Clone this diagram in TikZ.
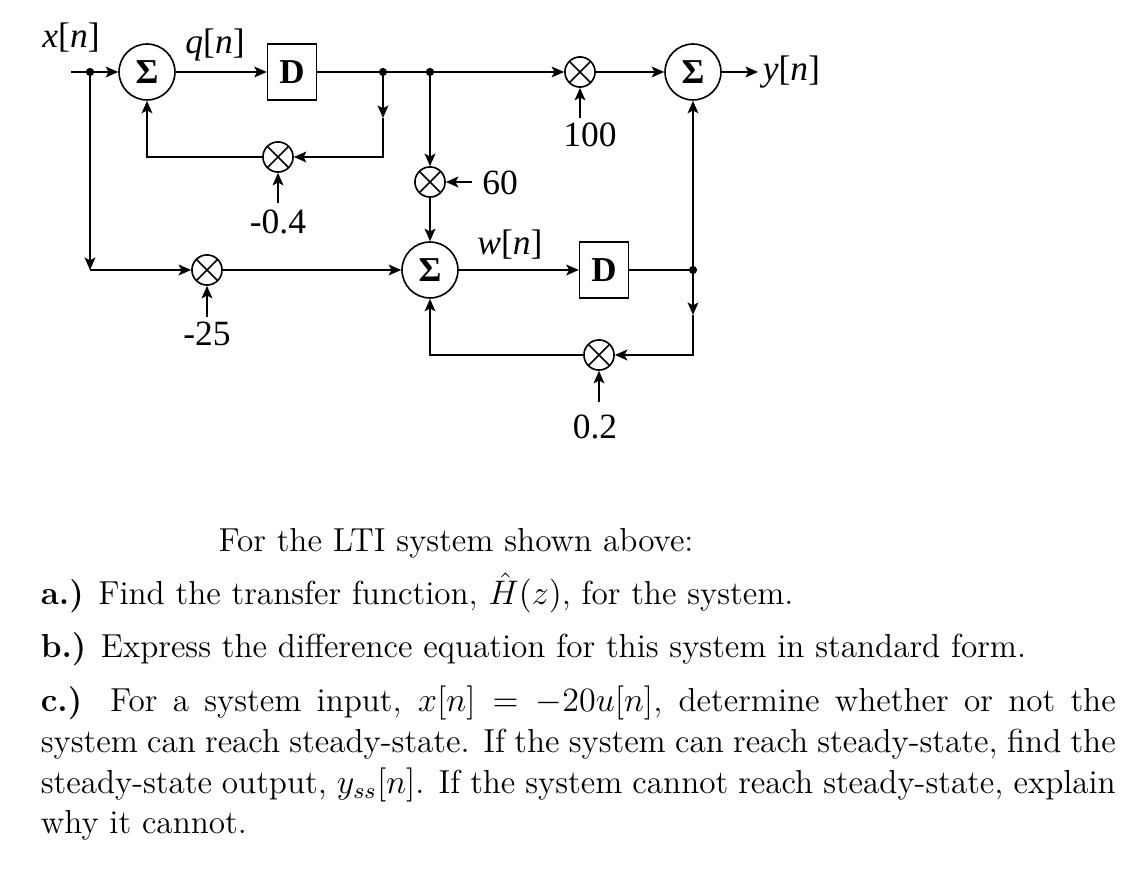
\documentclass[tikz,border=0pt]{standalone}
\usepackage{fontspec}
\newfontfamily\dfont{Liberation Serif}
\usetikzlibrary{arrows.meta}
\begin{document}
\begin{tikzpicture}[x=0.3521pt,y=-0.3521pt,
  line width=0.57pt,
  arr/.style={-{Stealth[length=4.4pt,width=3.8pt,inset=1pt]}},
  dfnt/.style={font=\dfont\fontsize{12.5}{14}\selectfont},
  sumn/.style={circle,draw,minimum size=19.7pt,inner sep=0pt,font=\dfont\bfseries\fontsize{12.3}{14}\selectfont},
  multn/.style={circle,draw,minimum size=10.6pt,inner sep=0pt,
    path picture={\draw (path picture bounding box.north west)--(path picture bounding box.south east)
                        (path picture bounding box.north east)--(path picture bounding box.south west);}},
  delayn/.style={draw,minimum width=17.2pt,minimum height=19.9pt,inner sep=0pt,font=\dfont\bfseries\fontsize{12.3}{14}\selectfont},
  dotn/.style={circle,fill,inner sep=0pt,minimum size=2.9pt},
  lbl/.style={dfnt,inner sep=0pt},
  txt/.style={inner sep=0pt,font=\fontsize{11.7}{14.15}\selectfont}]
\useasboundingbox (0,0) rectangle (1148,876);
% nodes
\coordinate (in) at (71,72);
\node[dotn] (dot1) at (90,72) {};
\node[sumn] (S1) at (147,72) {Σ};
\node[delayn] (D1) at (292,72) {D};
\node[dotn] (dot2) at (383,72) {};
\node[dotn] (dot3) at (430,72) {};
\node[multn] (M100) at (580,72) {};
\node[sumn] (S3) at (693,72) {Σ};
\coordinate (out) at (758,72);
\node[multn] (M04) at (278,157) {};
\node[multn] (M60) at (430,182) {};
\node[multn] (M25) at (207,270) {};
\node[sumn] (S2) at (430,270) {Σ};
\node[delayn] (D2) at (604,270) {D};
\node[dotn] (dot4) at (693,270) {};
\node[multn] (M02) at (599,355) {};
\coordinate (c1) at (383,118);
\coordinate (c2) at (383,157);
\coordinate (c3) at (147,157);
\coordinate (c4) at (90,270);
\coordinate (c5) at (693,315);
\coordinate (c6) at (693,355);
\coordinate (c7) at (430,355);
% labels
\node[lbl] (lx) at (71,38) {\itshape x\upshape[\itshape n\upshape]};
\node[lbl] (lq) at (215,45) {\itshape q\upshape[\itshape n\upshape]};
\node[lbl] (lw) at (510,245) {\itshape w\upshape[\itshape n\upshape]};
\node[lbl,anchor=west] (ly) at (762,72) {\itshape y\upshape[\itshape n\upshape]};
\node[lbl] (g04) at (278,222) {-0.4};
\node[lbl] (g25) at (207,334) {-25};
\node[lbl] (g100) at (590,135) {100};
\node[lbl] (g60) at (500,183) {60};
\node[lbl] (g02) at (595,427) {0.2};
\coordinate (a04) at (278,203);
\coordinate (a25) at (207,317);
\coordinate (a100) at (580,118);
\coordinate (a60) at (472,182);
\coordinate (a02) at (599,402);
% connectors
\draw[arr] (in) -- (S1.west);
\draw[arr] (S1.east) -- (D1.west);
\draw (D1.east) -- (dot3.center);
\draw[arr] (dot3.center) -- (M100.west);
\draw[arr] (M100.east) -- (S3.west);
\draw[arr] (S3.east) -- (out);
\draw[arr] (dot2.center) -- (c1);
\draw[arr] (c1) -- (c2) -- (M04.east);
\draw[arr] (M04.west) -- (c3) -- (S1.south);
\draw[arr] (dot1.center) -- (c4);
\draw[arr] (c4) -- (M25.west);
\draw[arr] (M25.east) -- (S2.west);
\draw[arr] (dot3.center) -- (M60.north);
\draw[arr] (M60.south) -- (S2.north);
\draw[arr] (S2.east) -- (D2.west);
\draw (D2.east) -- (dot4.center);
\draw[arr] (dot4.center) -- (S3.south);
\draw[arr] (dot4.center) -- (c5);
\draw[arr] (c5) -- (c6) -- (M02.east);
\draw[arr] (M02.west) -- (c7) -- (S2.south);
\draw[arr] (a04) -- (M04.south);
\draw[arr] (a25) -- (M25.south);
\draw[arr] (a100) -- (M100.south);
\draw[arr] (a60) -- (M60.east);
\draw[arr] (a02) -- (M02.south);
% text
\node[txt,anchor=base] (t0) at (456,552) {For the LTI system shown above:};
\node[txt,anchor=base west] (ta) at (40,605) {\textbf{a.)} Find the transfer function, $\hat{H}(z)$, for the system.};
\node[txt,anchor=base west] (tb) at (40,658) {\textbf{b.)} Express the difference equation for this system in standard form.};
\node[txt,anchor=base west] (tc) at (40,712) {\parbox[t]{378.5pt}{\fontsize{11.7}{14.3}\selectfont\textbf{c.)} For a system input, $x[n] = -20u[n]$, determine whether or not the\linebreak
system can reach steady-state. If the system can reach steady-state, find the\linebreak
steady-state output, $y_{ss}[n]$. If the system cannot reach steady-state, explain\linebreak
why it cannot.}};
\end{tikzpicture}
\end{document}
